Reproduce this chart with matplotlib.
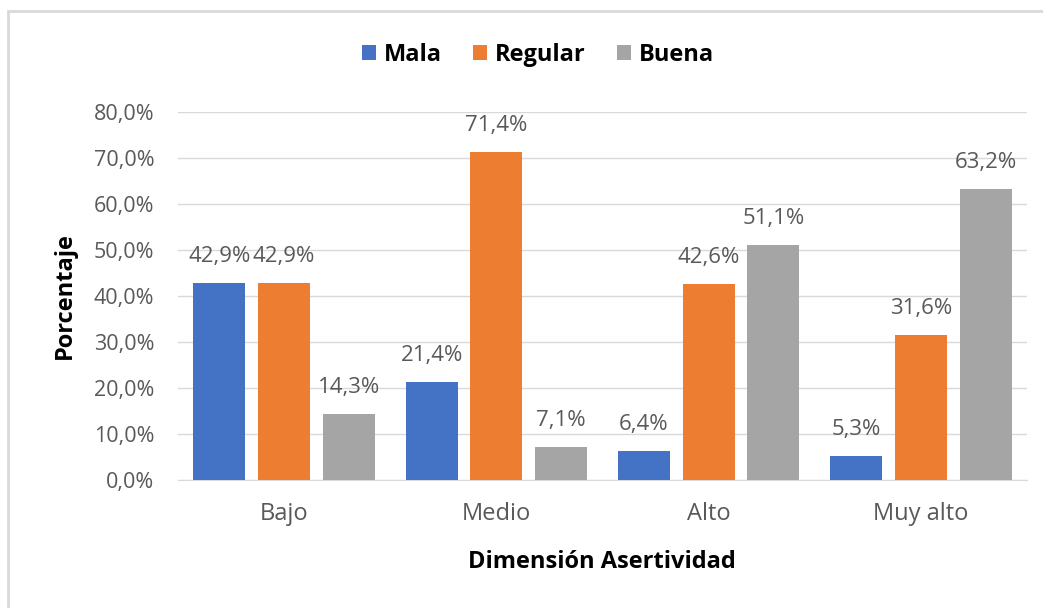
import matplotlib
matplotlib.use('Agg')
import matplotlib.pyplot as plt
import numpy as np
from matplotlib.patches import Rectangle

categories = ['Bajo', 'Medio', 'Alto', 'Muy alto']
series_names = ['Mala', 'Regular', 'Buena']
mala = [42.9, 21.4, 6.4, 5.3]
regular = [42.9, 71.4, 42.6, 31.6]
buena = [14.3, 7.1, 51.1, 63.2]
colors = ['#4472C4', '#ED7D31', '#A5A5A5']
yticks = [0, 10, 20, 30, 40, 50, 60, 70, 80]

plt.rcParams['font.family'] = ['Open Sans', 'DejaVu Sans']
txt = '#595959'

fig = plt.figure(figsize=(10.43, 6.08), dpi=100)
ax = fig.add_axes([178 / 1043, 1 - 480 / 608, 849 / 1043, 368 / 608])

# chart border (right and bottom run off the picture)
fig.patches.append(Rectangle((8 / 1043, -0.05), 1.1, 1 - 11 / 608 + 0.05,
                             transform=fig.transFigure, fill=False,
                             edgecolor='#d9d9d9', linewidth=2))

x = np.arange(len(categories))
w = 0.245
step = 0.305
for i, (name, vals) in enumerate(zip(series_names, [mala, regular, buena])):
    pos = x + (i - 1) * step
    ax.bar(pos, vals, width=w, color=colors[i], label=name, zorder=3)
    for p, v in zip(pos, vals):
        ax.annotate(f'{v:.1f}%'.replace('.', ','), (p, v), xytext=(0, 19),
                    textcoords='offset points', ha='center', va='center',
                    fontsize=16, color=txt)

ax.set_xlim(-0.5, 3.5)
ax.set_ylim(0, 80)
ax.set_yticks(yticks)
ax.set_yticklabels([f'{t:.1f}%'.replace('.', ',') for t in yticks])
ax.set_xticks(x)
ax.set_xticklabels(categories)
ax.tick_params(axis='both', length=0, labelcolor=txt)
ax.tick_params(axis='y', pad=17, labelsize=15.5)
ax.tick_params(axis='x', pad=16, labelsize=17)
ax.grid(axis='y', color='#d9d9d9', linewidth=1, zorder=0)
for s in ['top', 'right', 'left']:
    ax.spines[s].set_visible(False)
ax.spines['bottom'].set_color('#d9d9d9')

fig.text(602 / 1043, 1 - 562 / 608, 'Dimensión Asertividad', fontsize=17,
         fontweight='bold', color='black', ha='center', va='center')
fig.text(65 / 1043, 1 - 296 / 608, 'Porcentaje', fontsize=17,
         fontweight='bold', color='black', ha='center', va='center',
         rotation=90)

fig.legend(*ax.get_legend_handles_labels(), loc='center',
           bbox_to_anchor=(538 / 1043, 1 - 55 / 608), ncol=3,
           frameon=False, prop={'weight': 'bold', 'size': 17},
           handlelength=0.6, handleheight=0.6, handletextpad=0.35,
           columnspacing=1.3)

fig.savefig('out.png', dpi=100)
